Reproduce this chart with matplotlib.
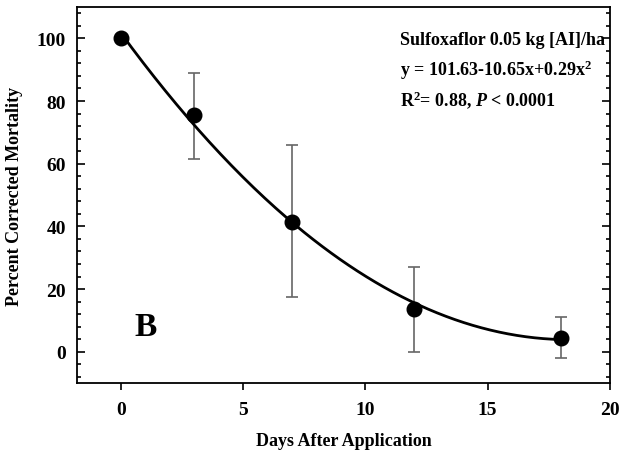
import numpy as np
import matplotlib
matplotlib.use("Agg")
import matplotlib.pyplot as plt
from matplotlib.ticker import MultipleLocator

plt.rcParams['font.family'] = ['Liberation Serif', 'DejaVu Serif']
plt.rcParams['font.weight'] = 'bold'
plt.rcParams['mathtext.fontset'] = 'custom'
plt.rcParams['mathtext.default'] = 'bf'
plt.rcParams['mathtext.bf'] = 'Liberation Serif:bold'
plt.rcParams['mathtext.rm'] = 'Liberation Serif:bold'
plt.rcParams['mathtext.it'] = 'Liberation Serif:italic:bold'

# Data
days = [0, 3, 7, 12, 18]
mortality = [100, 75.5, 41.5, 13.5, 4.5]
err_low = [0, 14, 24, 13.5, 6.5]
err_high = [0, 13.5, 24.5, 13.5, 6.7]

# fitted quadratic from the panel text
coef = [101.63, -10.65, 0.29]

fig = plt.figure(figsize=(6.24, 4.6), dpi=100)
ax = fig.add_axes([0.1234, 0.165, 0.854, 0.8176])

xs = np.linspace(0, 18, 200)
ax.plot(xs, coef[0] + coef[1] * xs + coef[2] * xs ** 2, color='black', lw=2, zorder=2)

ax.errorbar(days, mortality, yerr=[err_low, err_high], fmt='none',
            ecolor='#666666', elinewidth=1.2, capsize=4, capthick=1.2, zorder=1)
ax.plot(days, mortality, 'o', color='black', markersize=10.5, zorder=3)

ax.set_xlim(-1.8, 20)
ax.set_ylim(-10, 110)
ax.xaxis.set_major_locator(MultipleLocator(5))
ax.yaxis.set_major_locator(MultipleLocator(20))
ax.yaxis.set_minor_locator(MultipleLocator(4))

ax.tick_params(axis='x', which='major', direction='out', length=5, width=1.2,
               labelsize=14, pad=8)
ax.tick_params(axis='y', which='both', direction='in', right=True, width=1.2,
               labelsize=14, pad=8)
ax.tick_params(axis='y', which='major', length=6)
ax.tick_params(axis='y', which='minor', length=3)
for s in ax.spines.values():
    s.set_linewidth(1.3)

ax.set_xlabel('Days After Application', fontsize=13, fontweight='bold', labelpad=10)
ax.set_ylabel('Percent Corrected Mortality', fontsize=13, fontweight='bold', labelpad=10)

ax.text(1.0, 8, 'B', fontsize=24, fontweight='bold', ha='center', va='center')
ax.text(11.4, 99.6, 'Sulfoxaflor 0.05 kg [AI]/ha', fontsize=13, fontweight='bold',
        ha='left', va='center')
ax.text(11.4, 90, r'y = 101.63-10.65x+0.29x$^{2}$', fontsize=13,
        fontweight='bold', ha='left', va='center')
ax.text(11.4, 80.7, r'R$^{2}$= 0.88, $\mathit{P}$ < 0.0001', fontsize=13,
        fontweight='bold', ha='left', va='center')

fig.savefig('out.png', dpi=100)
